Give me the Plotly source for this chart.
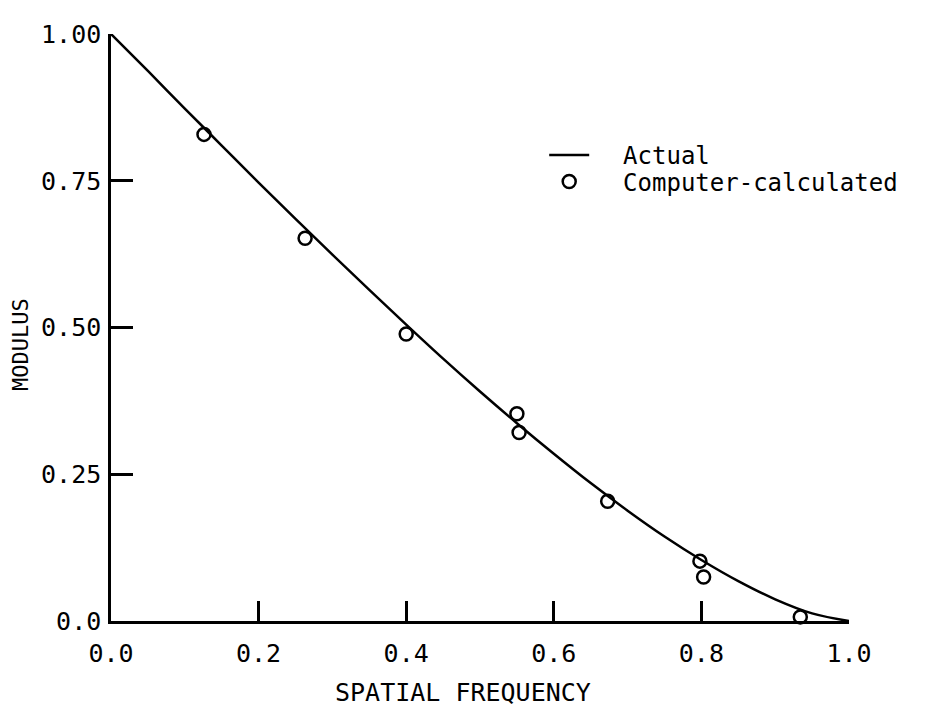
import plotly.graph_objects as go

# Actual curve
freq_actual = [0.0, 0.05, 0.10, 0.15, 0.20, 0.25, 0.30, 0.35, 0.40, 0.45, 0.50,
               0.55, 0.60, 0.65, 0.70, 0.75, 0.80, 0.85, 0.90, 0.95, 1.0]
mod_actual = [1.00, 0.937, 0.873, 0.810, 0.747, 0.685, 0.624, 0.564, 0.505, 0.447, 0.391,
              0.337, 0.285, 0.235, 0.188, 0.144, 0.104, 0.068, 0.037, 0.013, 0.0]

# Computer-calculated points
freq_calc = [0.126, 0.263, 0.400, 0.550, 0.553, 0.673, 0.798, 0.803, 0.934]
mod_calc = [0.829, 0.652, 0.489, 0.353, 0.321, 0.204, 0.102, 0.075, 0.007]

x_tickvals = [0.0, 0.2, 0.4, 0.6, 0.8, 1.0]
x_ticktext = ["0.0", "0.2", "0.4", "0.6", "0.8", "1.0"]
y_tickvals = [0.0, 0.25, 0.50, 0.75, 1.00]
y_ticktext = ["0.0", "0.25", "0.50", "0.75", "1.00"]
y_tickmarks = [0.25, 0.50, 0.75]

x_title = "SPATIAL FREQUENCY"
y_title = "MODULUS"

FONT = "DejaVu Sans Mono"
NB = "\u00a0"

fig = go.Figure()
fig.add_trace(go.Scatter(
    x=freq_actual, y=mod_actual, mode="lines", name=NB + NB + "Actual",
    line=dict(color="black", width=2.5, shape="spline"), cliponaxis=False,
    legend="legend"))
fig.add_trace(go.Scatter(
    x=freq_calc, y=mod_calc, mode="markers", name=NB + NB + "Computer-calculated",
    marker=dict(symbol="circle-open", size=13, color="black", line=dict(width=2.5, color="black")),
    cliponaxis=False, legend="legend2"))
# invisible trace to anchor the tick-mark overlay axis
fig.add_trace(go.Scatter(x=[0], y=[0], xaxis="x", yaxis="y2", mode="markers",
                         marker=dict(opacity=0), showlegend=False, hoverinfo="skip"))

legend_common = dict(xanchor="left", yanchor="middle", bgcolor="rgba(0,0,0,0)",
                     font=dict(size=24, family=FONT), itemwidth=40)

fig.update_layout(
    width=933, height=714,
    margin=dict(l=103, r=92, t=24, b=101),
    paper_bgcolor="white", plot_bgcolor="white",
    font=dict(family=FONT, size=25, color="black"),
    showlegend=True,
    legend=dict(x=0.587, y=0.793, **legend_common),
    legend2=dict(x=0.587, y=0.748, **legend_common),
    xaxis=dict(range=[0, 1], tickvals=x_tickvals, ticktext=x_ticktext,
               ticks="inside", ticklen=20, tickwidth=2.5, tickcolor="black",
               showline=True, linecolor="black", linewidth=2.5, mirror=False,
               showgrid=False, zeroline=False, ticklabelstandoff=8),
    yaxis=dict(range=[0, 1], tickvals=y_tickvals, ticktext=y_ticktext,
               ticks="", showline=True, linecolor="black", linewidth=2.5,
               showgrid=False, zeroline=False, ticklabelstandoff=2),
    yaxis2=dict(range=[0, 1], overlaying="y", side="left", tickvals=y_tickmarks,
                showticklabels=False, ticks="inside", ticklen=22, tickwidth=2.5,
                tickcolor="black", showline=False, showgrid=False, zeroline=False),
    annotations=[
        dict(text=x_title, xref="paper", yref="paper", x=0.477, y=-0.122,
             xanchor="center", yanchor="middle", showarrow=False,
             font=dict(size=25, family=FONT, color="black")),
        dict(text=y_title, xref="paper", yref="paper", x=-0.122, y=0.472,
             xanchor="center", yanchor="middle", showarrow=False, textangle=-90,
             font=dict(size=22, family=FONT, color="black")),
    ],
)

fig.write_html("out.html")
